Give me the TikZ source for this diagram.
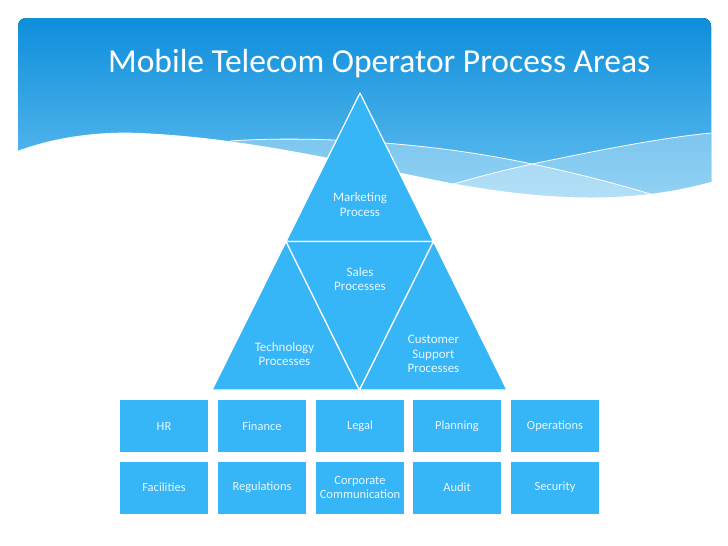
\documentclass[tikz,border=0pt]{standalone}
\usepackage{fontspec}
\setmainfont{Carlito}
\definecolor{skyb}{HTML}{36B5F7}
\definecolor{hdtop}{HTML}{0E8EDB}
\definecolor{hdbot}{HTML}{6CC4F2}
\definecolor{pale}{HTML}{EAF7FF}

\begin{document}
\begin{tikzpicture}[x=1pt,y=-1pt,tri/.style={fill=skyb,draw=white,line width=1.2pt,line join=round},box/.style={fill=skyb,minimum width=88pt,minimum height=52pt,inner sep=0pt,text=pale,font=\fontsize{12.5}{13.5}\selectfont,align=center},lbl/.style={text=pale,font=\fontsize{13}{14.5}\selectfont,align=center}]
\useasboundingbox[fill=white] (0,0) rectangle (728,546);
\def\apx{360};
\def\apy{93};
\def\midy{241.5};
\def\basey{390};
% header band
\fill[top color=hdtop,bottom color=hdbot,rounded corners=8pt] (18,18) rectangle (711,215);
\fill[white,opacity=0.3] (230,141) .. controls (300,136) and (420,140) .. (532,164) .. controls (590,176) and (630,188) .. (654,195) -- (654,230) -- (230,230) -- cycle;
\fill[white,opacity=0.3] (447,186) .. controls (480,176) and (505,170) .. (532,164) .. controls (600,150) and (660,138) .. (711,133) -- (711,230) -- (447,230) -- cycle;
\fill[white] (12,153) .. controls (50,138) and (95,131) .. (140,133) .. controls (250,138) and (350,163) .. (450,183) .. controls (550,201) and (630,204) .. (711,182) -- (720,182) -- (720,225) -- (12,225) -- cycle;
\draw[white,line width=0.8pt] (230,141) .. controls (300,136) and (420,140) .. (532,164) .. controls (590,176) and (630,188) .. (654,195);
\draw[white,line width=0.8pt] (447,186) .. controls (480,176) and (505,170) .. (532,164) .. controls (600,150) and (660,138) .. (711,133);
\node[anchor=base west,text=white,font=\fontsize{33.5}{40}\selectfont,inner sep=0pt] (title) at (108,72) {Mobile Telecom Operator Process Areas};
% pyramid
\draw[tri] (\apx,\apy) -- (286,\midy) -- (433.5,\midy) -- cycle;
\draw[tri] (286,\midy) -- (212,\basey) -- (359.5,\basey) -- cycle;
\draw[tri] (286,\midy) -- (433.5,\midy) -- (359.5,\basey) -- cycle;
\draw[tri] (433.5,\midy) -- (359.5,\basey) -- (507,\basey) -- cycle;
\node[lbl] (mkt) at (360,204.5) {Marketing\\Process};
\node[lbl] (sales) at (360,279) {Sales\\Processes};
\node[lbl] (tech) at (284.5,354) {Technology\\Processes};
\node[lbl] (cust) at (433.5,354) {Customer\\Support\\Processes};
% support areas
\node[box] (hr) at (164,426) {HR};
\node[box] (fin) at (262,426) {Finance};
\node[box] (legal) at (360,426) {Legal};
\node[box] (plan) at (457,426) {Planning};
\node[box] (ops) at (555,426) {Operations};
\node[box] (fac) at (164,487.5) {Facilities};
\node[box] (reg) at (262,487.5) {Regulations};
\node[box] (corp) at (360,487.5) {Corporate\\Communication};
\node[box] (audit) at (457,487.5) {Audit};
\node[box] (sec) at (555,487.5) {Security};
\end{tikzpicture}
\end{document}
